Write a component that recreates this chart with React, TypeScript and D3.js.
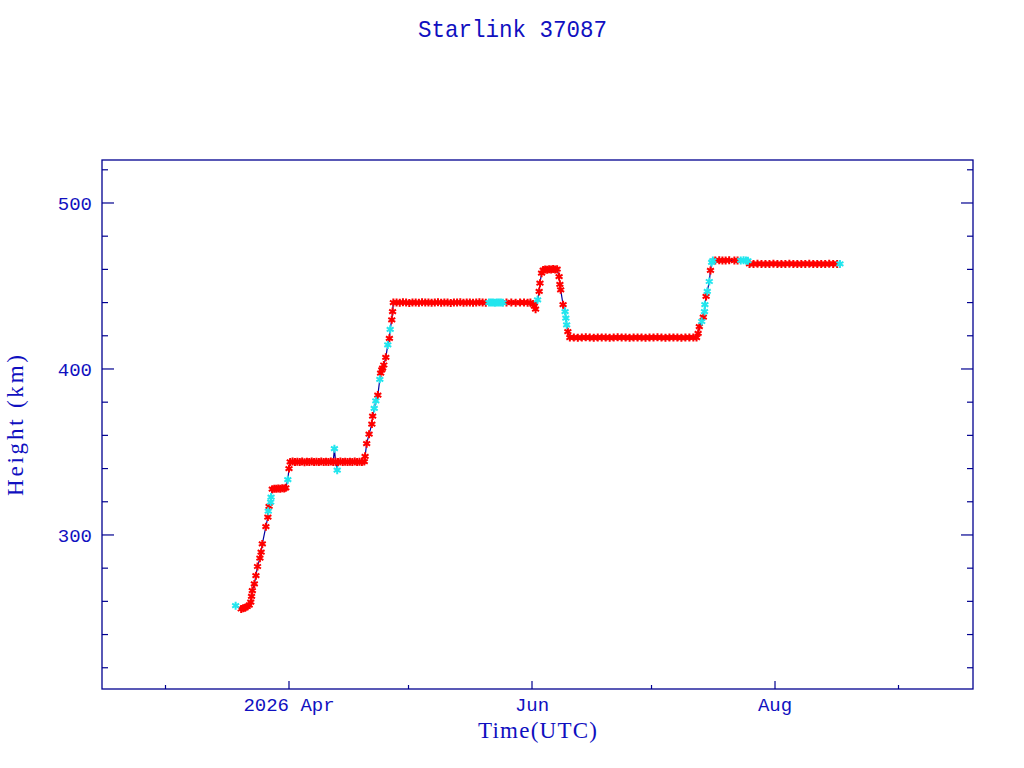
import React, { useEffect, useRef } from 'react';
import * as d3 from 'd3';

const TITLE = 'Starlink 37087';
const X_LABEL = 'Time(UTC)';
const Y_LABEL = 'Height (km)';

// [day of year 2026 (UTC, fractional), height in km]
const redPts: [number, number][] = [
  [79.0, 255.4], [79.5, 255.8], [80.0, 256.2], [80.5, 256.9], [81.0, 257.8], [81.4, 259.5],
  [81.6, 263.0], [81.8, 266.5], [82.3, 270.5], [82.7, 275.5], [83.1, 281.0], [83.7, 286.0],
  [84.0, 289.6], [84.3, 294.6], [85.2, 305.0], [85.7, 310.8], [86.0, 317.2],
  [86.8, 327.6], [87.3, 327.9], [87.8, 327.8], [88.3, 328.0], [88.8, 327.9], [89.3, 328.1],
  [89.8, 328.0], [90.2, 328.4], [91.0, 340.0],
  [91.3, 344.0], [91.9, 344.2], [92.5, 343.9], [93.1, 344.1], [93.7, 344.0], [94.3, 344.2],
  [94.9, 343.8], [95.5, 344.1], [96.1, 344.0], [96.7, 344.3], [97.3, 343.9], [97.9, 344.1],
  [98.5, 344.0], [99.1, 344.2], [99.7, 343.9], [100.3, 344.1], [100.9, 344.0], [101.5, 344.2],
  [102.1, 343.9], [102.7, 344.1], [103.3, 344.0], [103.9, 344.2], [104.5, 343.9], [105.1, 344.1],
  [105.7, 344.0], [106.3, 344.1], [106.9, 343.9], [107.5, 344.2], [108.1, 344.0], [108.7, 344.1],
  [109.3, 343.9], [109.9, 344.2],
  [110.1, 347.4], [110.5, 355.0], [111.1, 360.7], [111.8, 366.8], [112.0, 371.6], [113.3, 384.3],
  [114.0, 397.5], [114.3, 399.4], [114.5, 400.5], [114.8, 402.4], [115.3, 407.0], [116.2, 418.5],
  [116.8, 429.6], [117.0, 434.6],
  [117.2, 440.0], [118.0, 440.1], [118.8, 439.9], [119.6, 440.2], [120.4, 440.0], [121.2, 439.8],
  [122.0, 440.1], [122.8, 440.0], [123.6, 439.9], [124.4, 440.2], [125.2, 440.0], [126.0, 440.1],
  [126.8, 439.9], [127.6, 440.0], [128.4, 440.2], [129.2, 439.9], [130.0, 440.1], [130.8, 440.0],
  [131.6, 439.8], [132.4, 440.1], [133.2, 440.0], [134.0, 440.2], [134.8, 439.9], [135.6, 440.0],
  [136.4, 440.1], [137.2, 439.9], [138.0, 440.0], [138.8, 440.2], [139.6, 440.0], [140.4, 439.9],
  [145.6, 440.0], [146.8, 440.1], [147.9, 439.9], [149.0, 440.0], [150.0, 440.1], [150.9, 439.9],
  [151.6, 440.0], [152.3, 439.0], [152.6, 437.8], [152.9, 436.0],
  [153.8, 446.7], [154.0, 451.7], [154.4, 457.7],
  [154.8, 459.6], [155.3, 460.0], [155.8, 459.8], [156.3, 460.1], [156.8, 459.9], [157.3, 460.2],
  [157.8, 460.0], [158.3, 460.1],
  [158.8, 455.7], [159.0, 451.0], [159.2, 447.7], [159.8, 438.7], [161.0, 422.5],
  [161.5, 418.9], [162.5, 419.0], [163.5, 418.8], [164.5, 418.9], [165.5, 419.1], [166.5, 418.9],
  [167.5, 418.8], [168.5, 419.0], [169.5, 418.9], [170.5, 419.0], [171.5, 418.8], [172.5, 418.9],
  [173.5, 419.1], [174.5, 418.9], [175.5, 419.0], [176.5, 418.8], [177.5, 418.9], [178.5, 419.0],
  [179.5, 418.9], [180.5, 418.8], [181.5, 419.0], [182.5, 418.9], [183.5, 419.1], [184.5, 418.9],
  [185.5, 418.8], [186.5, 419.0], [187.5, 418.9], [188.5, 419.0], [189.5, 418.8], [190.5, 418.9],
  [191.5, 419.0], [192.5, 418.9], [193.3, 418.9],
  [193.7, 421.5], [194.0, 425.5], [195.0, 431.2], [195.7, 443.7], [196.8, 459.4],
  [198.0, 465.4], [199.0, 465.5], [199.8, 465.3], [200.6, 465.4], [201.5, 465.5], [202.8, 465.3],
  [203.6, 465.4],
  [206.6, 463.3], [207.6, 463.2], [208.6, 463.4], [209.6, 463.3], [210.6, 463.2], [211.6, 463.3],
  [212.6, 463.4], [213.6, 463.3], [214.6, 463.2], [215.6, 463.3], [216.6, 463.4], [217.6, 463.3],
  [218.6, 463.2], [219.6, 463.3], [220.6, 463.3], [221.6, 463.4], [222.6, 463.2], [223.6, 463.3],
  [224.6, 463.3], [225.6, 463.2], [226.6, 463.4], [227.6, 463.3], [228.6, 463.3],
];

const cyanPts: [number, number][] = [
  [77.6, 257.4], [85.8, 314.3], [86.4, 319.8], [86.5, 322.8], [90.7, 333.3],
  [102.4, 352.0], [103.1, 339.0],
  [112.4, 376.2], [112.8, 380.8], [113.8, 393.8], [115.8, 414.5], [116.4, 423.9],
  [141.2, 440.0], [141.7, 440.1], [142.2, 440.0], [142.7, 439.9], [143.2, 440.0], [143.7, 440.1],
  [144.2, 440.0], [144.7, 439.9],
  [153.4, 441.7],
  [160.3, 434.6], [160.5, 430.6], [160.7, 426.6],
  [194.6, 428.6], [195.3, 434.6], [195.4, 438.7], [196.0, 446.7], [196.5, 452.7], [197.1, 464.2],
  [197.4, 465.3],
  [204.4, 465.4], [205.1, 465.5], [205.7, 465.3], [206.2, 465.2],
  [229.3, 463.3],
];

const monthTicks = ['2026-03-01', '2026-04-01', '2026-05-01', '2026-06-01', '2026-07-01', '2026-08-01', '2026-09-01'];
const monthLabels = ['', '2026 Apr', '', 'Jun', '', 'Aug', ''];
const heightMajor = [300, 400, 500];
const heightMinor = [220, 240, 260, 280, 320, 340, 360, 380, 420, 440, 460, 480, 520];

const AXIS_COLOR = '#000090';
const TEXT_COLOR = '#1010c0';
const LINE_COLOR = '#0000a0';
const RED = '#ff0000';
const CYAN = '#22e6ee';

const doyToDate = (d: number) => new Date(Date.UTC(2026, 0, 1) + (d - 1) * 864e5);

export default function App(): JSX.Element {
  const svgRef = useRef<SVGSVGElement>(null);

  useEffect(() => {
    const svgEle = svgRef.current;
    if (svgEle == null) {
      return;
    }
    const svg = d3.select(svgEle);
    svg.selectAll('*').remove();

    const margin = { top: 160, right: 51, bottom: 79, left: 102 };
    const W = 1024;
    const H = 768;
    const x0 = margin.left;
    const x1 = W - margin.right;
    const y0 = margin.top;
    const y1 = H - margin.bottom;

    const x = d3
      .scaleUtc()
      .domain([
        new Date(Date.UTC(2026, 3, 1) - 46.94 * 864e5),
        new Date(Date.UTC(2026, 7, 1) + 49.7 * 864e5)
      ])
      .range([x0, x1]);
    const y = d3.scaleLinear().domain([207.2, 525.9]).range([y1, y0]);

    // frame
    svg
      .append('rect')
      .attr('x', x0)
      .attr('y', y0)
      .attr('width', x1 - x0)
      .attr('height', y1 - y0)
      .attr('fill', 'none')
      .attr('stroke', AXIS_COLOR)
      .attr('stroke-width', 1.3);

    // x ticks (inward)
    const parse = d3.utcParse('%Y-%m-%d');
    monthTicks.forEach((t, i) => {
      const px = x(parse(t) as Date);
      const len = monthLabels[i] ? 8 : 4;
      svg
        .append('line')
        .attr('x1', px)
        .attr('x2', px)
        .attr('y1', y1)
        .attr('y2', y1 - len)
        .attr('stroke', AXIS_COLOR)
        .attr('stroke-width', 1.2);
      if (monthLabels[i]) {
        svg
          .append('text')
          .attr('x', px)
          .attr('y', 711)
          .attr('text-anchor', 'middle')
          .attr('font-family', 'Liberation Mono, monospace')
          .attr('font-size', 19)
          .attr('fill', TEXT_COLOR)
          .text(monthLabels[i]);
      }
    });

    // y ticks on both sides
    const yTick = (v: number, len: number) => {
      const py = y(v);
      svg.append('line').attr('x1', x0).attr('x2', x0 + len).attr('y1', py).attr('y2', py)
        .attr('stroke', AXIS_COLOR).attr('stroke-width', 1.2);
      svg.append('line').attr('x1', x1).attr('x2', x1 - len).attr('y1', py).attr('y2', py)
        .attr('stroke', AXIS_COLOR).attr('stroke-width', 1.2);
    };
    heightMinor.forEach((v) => yTick(v, 6));
    heightMajor.forEach((v) => {
      yTick(v, 12);
      svg
        .append('text')
        .attr('x', 92)
        .attr('y', y(v))
        .attr('dy', '0.36em')
        .attr('text-anchor', 'end')
        .attr('font-family', 'Liberation Mono, monospace')
        .attr('font-size', 19)
        .attr('fill', TEXT_COLOR)
        .text(String(v));
    });

    // title and axis labels
    svg
      .append('text')
      .attr('x', 512.5)
      .attr('y', 37)
      .attr('text-anchor', 'middle')
      .attr('font-family', 'Liberation Mono, monospace')
      .attr('font-size', 24)
      .attr('textLength', 189)
      .attr('lengthAdjust', 'spacingAndGlyphs')
      .attr('fill', TEXT_COLOR)
      .text(TITLE);
    svg
      .append('text')
      .attr('x', 537.5)
      .attr('y', 738)
      .attr('text-anchor', 'middle')
      .attr('font-family', 'Liberation Serif, serif')
      .attr('font-size', 23)
      .attr('textLength', 119)
      .attr('lengthAdjust', 'spacing')
      .attr('fill', TEXT_COLOR)
      .text(X_LABEL);
    svg
      .append('text')
      .attr('transform', 'translate(23,425.5) rotate(-90)')
      .attr('text-anchor', 'middle')
      .attr('font-family', 'Liberation Serif, serif')
      .attr('font-size', 23)
      .attr('textLength', 141)
      .attr('lengthAdjust', 'spacing')
      .attr('fill', TEXT_COLOR)
      .text(Y_LABEL);

    // connecting line through all points in time order
    const all = [...redPts, ...cyanPts].sort((a, b) => a[0] - b[0]);
    const line = d3
      .line<[number, number]>()
      .x((d) => x(doyToDate(d[0])))
      .y((d) => y(d[1]));
    svg
      .append('path')
      .datum(all)
      .attr('d', line)
      .attr('fill', 'none')
      .attr('stroke', LINE_COLOR)
      .attr('stroke-width', 1.2);

    // asterisk markers
    const r = 4;
    const star = (cx: number, cy: number) => {
      const a = r * Math.cos(Math.PI / 6);
      const b = r * Math.sin(Math.PI / 6);
      return `M${cx},${cy - r}L${cx},${cy + r}M${cx - a},${cy - b}L${cx + a},${cy + b}M${cx - a},${cy + b}L${cx + a},${cy - b}`;
    };
    const drawPts = (pts: [number, number][], color: string) => {
      svg
        .append('g')
        .selectAll('path')
        .data(pts)
        .enter()
        .append('path')
        .attr('d', (d) => star(x(doyToDate(d[0])), y(d[1])))
        .attr('fill', 'none')
        .attr('stroke', color)
        .attr('stroke-width', 2);
    };
    drawPts(redPts, RED);
    drawPts(cyanPts, CYAN);
  });

  return (
    <div style={{ position: 'absolute', left: 0, top: 0, width: 1024, height: 768, background: 'white' }}>
      <svg ref={svgRef} width={1024} height={768} style={{ display: 'block' }} />
    </div>
  );
}
